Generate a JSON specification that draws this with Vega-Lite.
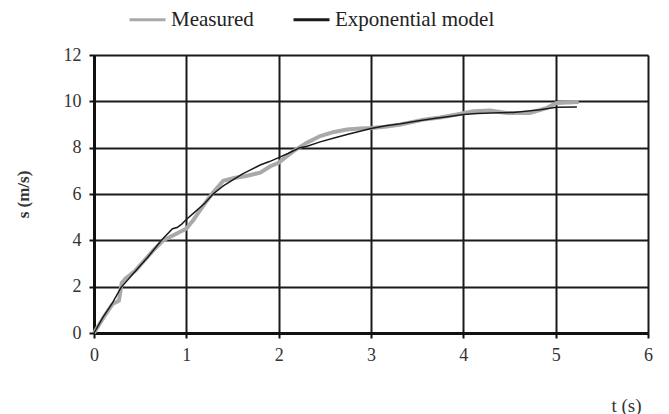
{
  "$schema": "https://vega.github.io/schema/vega-lite/v6.json",
  "width": 554,
  "height": 278,
  "autosize": {"type": "none"},
  "padding": {"left": 94, "top": 55, "right": 21, "bottom": 81},
  "background": "white",
  "config": {
    "view": {"stroke": null},
    "font": "Liberation Serif",
    "axis": {"labelFont": "Liberation Serif", "titleFont": "Liberation Serif"},
    "legend": {"labelFont": "Liberation Serif"}
  },
  "data": {
    "values": [
      {"t": 0, "s": 0, "series": "Measured"},
      {"t": 0.1, "s": 0.65, "series": "Measured"},
      {"t": 0.2, "s": 1.25, "series": "Measured"},
      {"t": 0.25, "s": 1.35, "series": "Measured"},
      {"t": 0.27, "s": 1.4, "series": "Measured"},
      {"t": 0.3, "s": 2.15, "series": "Measured"},
      {"t": 0.34, "s": 2.35, "series": "Measured"},
      {"t": 0.45, "s": 2.7, "series": "Measured"},
      {"t": 0.55, "s": 3.15, "series": "Measured"},
      {"t": 0.65, "s": 3.6, "series": "Measured"},
      {"t": 0.75, "s": 4.0, "series": "Measured"},
      {"t": 0.85, "s": 4.2, "series": "Measured"},
      {"t": 0.95, "s": 4.4, "series": "Measured"},
      {"t": 1.0, "s": 4.5, "series": "Measured"},
      {"t": 1.08, "s": 4.9, "series": "Measured"},
      {"t": 1.15, "s": 5.3, "series": "Measured"},
      {"t": 1.22, "s": 5.7, "series": "Measured"},
      {"t": 1.29, "s": 6.06, "series": "Measured"},
      {"t": 1.4, "s": 6.57, "series": "Measured"},
      {"t": 1.53, "s": 6.7, "series": "Measured"},
      {"t": 1.65, "s": 6.78, "series": "Measured"},
      {"t": 1.8, "s": 6.92, "series": "Measured"},
      {"t": 1.91, "s": 7.2, "series": "Measured"},
      {"t": 2.0, "s": 7.35, "series": "Measured"},
      {"t": 2.08, "s": 7.6, "series": "Measured"},
      {"t": 2.16, "s": 7.85, "series": "Measured"},
      {"t": 2.3, "s": 8.2, "series": "Measured"},
      {"t": 2.45, "s": 8.5, "series": "Measured"},
      {"t": 2.6, "s": 8.68, "series": "Measured"},
      {"t": 2.74, "s": 8.78, "series": "Measured"},
      {"t": 2.88, "s": 8.83, "series": "Measured"},
      {"t": 3.0, "s": 8.85, "series": "Measured"},
      {"t": 3.15, "s": 8.9, "series": "Measured"},
      {"t": 3.32, "s": 9.0, "series": "Measured"},
      {"t": 3.57, "s": 9.21, "series": "Measured"},
      {"t": 3.75, "s": 9.3, "series": "Measured"},
      {"t": 3.93, "s": 9.43, "series": "Measured"},
      {"t": 4.11, "s": 9.57, "series": "Measured"},
      {"t": 4.29, "s": 9.6, "series": "Measured"},
      {"t": 4.47, "s": 9.5, "series": "Measured"},
      {"t": 4.72, "s": 9.5, "series": "Measured"},
      {"t": 4.9, "s": 9.71, "series": "Measured"},
      {"t": 5.01, "s": 9.93, "series": "Measured"},
      {"t": 5.25, "s": 9.97, "series": "Measured"},
      {"t": 0, "s": 0, "series": "Exponential model"},
      {"t": 0.1, "s": 0.7, "series": "Exponential model"},
      {"t": 0.2, "s": 1.3, "series": "Exponential model"},
      {"t": 0.29, "s": 1.95, "series": "Exponential model"},
      {"t": 0.4, "s": 2.45, "series": "Exponential model"},
      {"t": 0.5, "s": 2.9, "series": "Exponential model"},
      {"t": 0.58, "s": 3.26, "series": "Exponential model"},
      {"t": 0.73, "s": 4.0, "series": "Exponential model"},
      {"t": 0.85, "s": 4.5, "series": "Exponential model"},
      {"t": 0.9, "s": 4.55, "series": "Exponential model"},
      {"t": 0.95, "s": 4.7, "series": "Exponential model"},
      {"t": 1.0, "s": 4.9, "series": "Exponential model"},
      {"t": 1.1, "s": 5.25, "series": "Exponential model"},
      {"t": 1.2, "s": 5.6, "series": "Exponential model"},
      {"t": 1.29, "s": 6.0, "series": "Exponential model"},
      {"t": 1.4, "s": 6.35, "series": "Exponential model"},
      {"t": 1.5, "s": 6.6, "series": "Exponential model"},
      {"t": 1.6, "s": 6.85, "series": "Exponential model"},
      {"t": 1.7, "s": 7.05, "series": "Exponential model"},
      {"t": 1.8, "s": 7.25, "series": "Exponential model"},
      {"t": 1.9, "s": 7.4, "series": "Exponential model"},
      {"t": 2.0, "s": 7.57, "series": "Exponential model"},
      {"t": 2.1, "s": 7.75, "series": "Exponential model"},
      {"t": 2.23, "s": 8.0, "series": "Exponential model"},
      {"t": 2.3, "s": 8.05, "series": "Exponential model"},
      {"t": 2.45, "s": 8.25, "series": "Exponential model"},
      {"t": 2.6, "s": 8.42, "series": "Exponential model"},
      {"t": 2.74, "s": 8.57, "series": "Exponential model"},
      {"t": 2.87, "s": 8.7, "series": "Exponential model"},
      {"t": 3.0, "s": 8.83, "series": "Exponential model"},
      {"t": 3.16, "s": 8.95, "series": "Exponential model"},
      {"t": 3.32, "s": 9.03, "series": "Exponential model"},
      {"t": 3.5, "s": 9.15, "series": "Exponential model"},
      {"t": 3.7, "s": 9.27, "series": "Exponential model"},
      {"t": 3.85, "s": 9.35, "series": "Exponential model"},
      {"t": 4.0, "s": 9.43, "series": "Exponential model"},
      {"t": 4.15, "s": 9.48, "series": "Exponential model"},
      {"t": 4.3, "s": 9.5, "series": "Exponential model"},
      {"t": 4.54, "s": 9.52, "series": "Exponential model"},
      {"t": 4.7, "s": 9.58, "series": "Exponential model"},
      {"t": 4.83, "s": 9.64, "series": "Exponential model"},
      {"t": 5.01, "s": 9.74, "series": "Exponential model"},
      {"t": 5.23, "s": 9.76, "series": "Exponential model"}
    ]
  },
  "encoding": {
    "x": {
      "field": "t",
      "type": "quantitative",
      "scale": {"domain": [0, 6], "nice": false},
      "axis": {
        "values": [0, 1, 2, 3, 4, 5, 6],
        "grid": true,
        "gridColor": "#1a1a1a",
        "gridWidth": 2,
        "domainColor": "#111111",
        "domainWidth": 3,
        "tickColor": "#111111",
        "tickWidth": 2,
        "tickSize": 5,
        "labelFlush": false,
        "labelFont": "Liberation Serif",
        "labelFontSize": 18,
        "labelColor": "#333333",
        "labelPadding": 8,
        "title": "t (s)",
        "titleFont": "Liberation Serif",
        "titleFontSize": 19,
        "titleFontWeight": "normal",
        "titleColor": "#333333",
        "titleX": 532,
        "titleY": 72,
        "titleAlign": "center",
        "titleBaseline": "middle"
      }
    },
    "y": {
      "field": "s",
      "type": "quantitative",
      "scale": {"domain": [0, 12], "nice": false},
      "axis": {
        "values": [0, 2, 4, 6, 8, 10, 12],
        "grid": true,
        "gridColor": "#1a1a1a",
        "gridWidth": 2,
        "domainColor": "#111111",
        "domainWidth": 3,
        "tickColor": "#111111",
        "tickWidth": 2,
        "tickSize": 5,
        "labelFlush": false,
        "labelFont": "Liberation Serif",
        "labelFontSize": 18,
        "labelColor": "#333333",
        "labelPadding": 8,
        "title": "s (m/s)",
        "titleFont": "Liberation Serif",
        "titleFontSize": 17,
        "titleFontWeight": "bold",
        "titleColor": "#333333",
        "titleX": -71,
        "titleY": 139,
        "titleAngle": 270,
        "titleAlign": "center",
        "titleBaseline": "middle"
      }
    },
    "color": {
      "field": "series",
      "type": "nominal",
      "scale": {"domain": ["Measured", "Exponential model"], "range": ["#a9a9a9", "#1a1a1a"]},
      "legend": {
        "orient": "none",
        "legendX": 34,
        "legendY": -55,
        "direction": "horizontal",
        "title": null,
        "symbolType": "stroke",
        "symbolSize": 1296,
        "symbolStrokeWidth": 3,
        "labelFont": "Liberation Serif",
        "labelFontSize": 21,
        "labelColor": "#222222",
        "labelOffset": 4,
        "columnPadding": 33
      }
    }
  },
  "layer": [
    {
      "transform": [{"filter": "datum.series === 'Measured'"}],
      "mark": {"type": "line", "strokeWidth": 4}
    },
    {
      "transform": [{"filter": "datum.series === 'Exponential model'"}],
      "mark": {"type": "line", "strokeWidth": 1.5}
    }
  ]
}
